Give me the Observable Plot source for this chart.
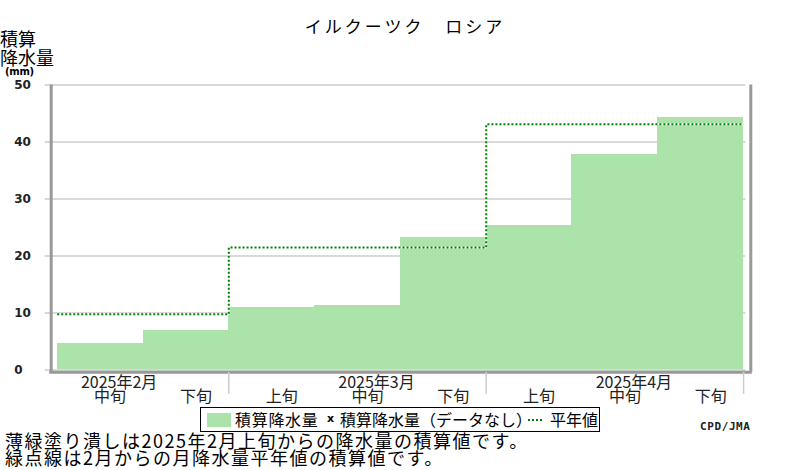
<!DOCTYPE html>
<html>
<head>
<meta charset="utf-8">
<script src="https://cdn.jsdelivr.net/npm/d3@7"></script>
<script src="https://cdn.jsdelivr.net/npm/@observablehq/plot@0.6"></script>
<style>
  html, body { margin: 0; padding: 0; background: #fff; }
  #wrap { position: relative; width: 800px; height: 470px; overflow: hidden; font-family: "Noto Sans CJK JP", sans-serif; color: #000; }
  #wrap svg { position: absolute; left: 0; top: 0; }
  .abs { position: absolute; white-space: nowrap; line-height: 1; }
</style>
</head>
<body>
<div id="wrap"></div>
<script>
// ---- data ----
const title = "イルクーツク ロシア";
const yTitle1 = "積算";
const yTitle2 = "降水量";
const yUnit = "(mm)";
const months = ["2025年2月", "2025年3月", "2025年4月"];
const decadeLabels = ["中旬", "下旬", "上旬", "中旬", "下旬", "上旬", "中旬", "下旬"];
const decadeMonth = [0, 0, 1, 1, 1, 2, 2, 2];
const precip = [4.7, 7.0, 11.0, 11.3, 23.2, 25.3, 37.8, 44.3];
const normals = [9.8, 21.5, 43.1];
const yTicks = [0, 10, 20, 30, 40, 50];
const legendLabels = ["積算降水量", "x", "積算降水量（データなし）", "平年値"];
const captionLines = [
  "薄緑塗り潰しは2025年2月上旬からの降水量の積算値です。",
  "緑点線は2月からの月降水量平年値の積算値です。"
];
const credit = "CPD/JMA";

// ---- derived ----
const monthIdx = months.map((m, k) => decadeMonth.map((v, i) => (v === k ? i : -1)).filter(i => i >= 0));
const normalPts = months.flatMap((m, k) => [
  {x: monthIdx[k][0], y: normals[k]},
  {x: monthIdx[k][monthIdx[k].length - 1] + 1, y: normals[k]}
]);
const monthBounds = monthIdx.map(ix => ix[ix.length - 1] + 1);
const monthLabelPos = months.map((m, k) => {
  const mid = monthIdx[k].find(i => decadeLabels[i] === "中旬");
  return {x: mid + 0.5, text: m};
});

const xmin = -0.07, xmax = 8.084, ymin = -0.386, ymax = 50;
const barColor = "#abe3ab";
const green = "#008000";

const chart = Plot.plot({
  width: 800,
  height: 410,
  marginLeft: 50.7,
  marginRight: 49.7,
  marginTop: 84.5,
  marginBottom: 38.3,
  style: {fontFamily: "Noto Sans CJK JP", fontSize: "16px", background: "transparent", color: "#000"},
  x: {domain: [xmin, xmax], axis: null},
  y: {domain: [ymin, ymax], axis: null},
  marks: [
    Plot.ruleY(yTicks, {stroke: "#cccccc", strokeWidth: 1.5, insetLeft: -6, insetRight: 5}),
    Plot.rectY(precip, {x1: (d, i) => i, x2: (d, i) => i + 1, y: d => d, fill: barColor, shapeRendering: "crispEdges"}),
    Plot.line(normalPts, {x: "x", y: "y", stroke: "#fff", strokeWidth: 2, strokeLinecap: "butt", strokeLinejoin: "miter"}),
    Plot.line(normalPts, {x: "x", y: "y", stroke: green, strokeWidth: 2, strokeDasharray: "2,2", strokeLinecap: "butt", strokeLinejoin: "miter"}),
    Plot.ruleX([xmin, xmax], {y1: ymin, y2: ymax, stroke: "#999", strokeWidth: 3}),
    Plot.ruleY([ymin], {stroke: "#999", strokeWidth: 3, insetLeft: -1.5, insetRight: -1.5}),
    Plot.axisX(monthBounds, {tickSize: 22, tickFormat: () => "", label: null, stroke: "#cccccc", strokeWidth: 1.5}),
    Plot.text(yTicks, {
      y: d => d, text: d => String(d), frameAnchor: "left", dx: -37, textAnchor: "start",
      fontFamily: "DejaVu Sans", fontWeight: "bold", fontSize: 12, fill: "#222"
    }),
    Plot.text(decadeLabels, {
      x: (d, i) => i + 0.5, text: d => d, frameAnchor: "bottom", dx: 10, dy: 24.5,
      lineAnchor: "middle", fontSize: 16, fill: "#222"
    }),
    Plot.text(monthLabelPos, {
      x: "x", text: "text", frameAnchor: "bottom", dx: 19, dy: 10.5,
      lineAnchor: "middle", fontSize: 16, fill: "#222"
    })
  ]
});

const wrap = document.getElementById("wrap");
wrap.appendChild(chart);

function addDiv(text, css) {
  const d = document.createElement("div");
  d.className = "abs";
  d.textContent = text;
  Object.assign(d.style, css);
  wrap.appendChild(d);
  return d;
}

// title
addDiv(title, {left: "405px", top: "17px", fontSize: "17px", letterSpacing: "3px", wordSpacing: "14px", transform: "translateX(-50%)"});
// y-axis title
addDiv(yTitle1, {left: "0px", top: "29px", fontSize: "18px"});
addDiv(yTitle2, {left: "0px", top: "48px", fontSize: "18px"});
addDiv(yUnit, {left: "5px", top: "67px", fontSize: "10px", fontWeight: "bold", fontFamily: "DejaVu Sans", letterSpacing: "-0.3px"});

// legend box
const box = document.createElement("div");
Object.assign(box.style, {position: "absolute", left: "200px", top: "406.5px", width: "398px", height: "23px", border: "1.5px solid #000"});
wrap.appendChild(box);
const sw = document.createElement("div");
Object.assign(sw.style, {position: "absolute", left: "207px", top: "413px", width: "24px", height: "14px", background: barColor});
wrap.appendChild(sw);
addDiv(legendLabels[0], {left: "235px", top: "411px", fontSize: "16px", letterSpacing: "0.7px"});
addDiv(legendLabels[1], {left: "327px", top: "413px", fontSize: "11px", fontWeight: "bold", fontFamily: "DejaVu Sans"});
addDiv(legendLabels[2], {left: "340px", top: "411px", fontSize: "16px", letterSpacing: "0px"});
const dot = document.createElementNS("http://www.w3.org/2000/svg", "svg");
dot.setAttribute("width", "16"); dot.setAttribute("height", "4");
Object.assign(dot.style, {position: "absolute", left: "528px", top: "418px"});
dot.innerHTML = '<line x1="0" y1="2" x2="16" y2="2" stroke="' + green + '" stroke-width="2" stroke-dasharray="2,2"/>';
wrap.appendChild(dot);
addDiv(legendLabels[3], {left: "550px", top: "411px", fontSize: "16px"});

// credit
addDiv(credit, {left: "700px", top: "421px", fontSize: "11px", fontWeight: "bold", fontFamily: "DejaVu Sans Mono", letterSpacing: "0.6px", color: "#222"});

// captions
addDiv(captionLines[0], {left: "5px", top: "431px", fontSize: "18px", letterSpacing: "1.5px"});
addDiv(captionLines[1], {left: "5px", top: "448px", fontSize: "18px", letterSpacing: "1.5px"});
</script>
</body>
</html>
